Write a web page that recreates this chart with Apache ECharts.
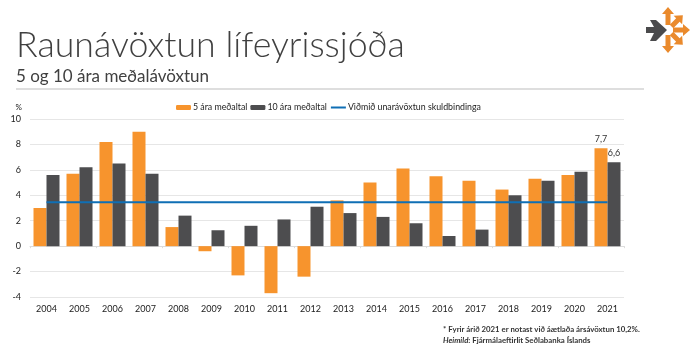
<!DOCTYPE html>
<html>
<head>
<meta charset="utf-8">
<style>
  html, body { margin: 0; padding: 0; background: #fff; }
  #chart { width: 700px; height: 360px; }
</style>
</head>
<body>
<div id="chart"></div>
<script src="https://cdn.jsdelivr.net/npm/echarts@6/dist/echarts.min.js"></script>
<script>
const years = ['2004', '2005', '2006', '2007', '2008', '2009', '2010', '2011', '2012',
  '2013', '2014', '2015', '2016', '2017', '2018', '2019', '2020', '2021'];
const avg5 = [3.0, 5.7, 8.2, 9.0, 1.5, -0.4, -2.3, -3.7, -2.4, 3.6, 5.0, 6.1, 5.5, 5.15, 4.45, 5.3, 5.6, 7.7];
const avg10 = [5.6, 6.2, 6.5, 5.7, 2.4, 1.25, 1.6, 2.1, 3.1, 2.6, 2.3, 1.8, 0.8, 1.3, 4.0, 5.15, 5.85, 6.6];
const target = [3.45, 3.45, 3.45, 3.45, 3.45, 3.45, 3.45, 3.45, 3.45, 3.45, 3.45, 3.45, 3.45, 3.45, 3.45, 3.45, 3.45, 3.45];

const font = 'Lato, "Open Sans", sans-serif';
const orange = '#f7942d';
const dark = '#4d4d4f';
const blue = '#0f6fb5';

// only the last bar of each series carries a label
const withLastLabel = (values) => values.map((v, i) => i === values.length - 1
  ? { value: v, label: { show: true, position: 'top', distance: 5, fontFamily: font, fontSize: 9, color: '#333', formatter: (p) => String(p.value).replace('.', ',') } }
  : v);

// logo arrow pointing up from the centre, turned clockwise by deg
const arrow = (deg, len) => ({
  type: 'polygon',
  x: 668, y: 30,
  rotation: -deg * Math.PI / 180,
  shape: { points: [[-2.5, -5], [-2.5, -len + 7], [-6, -len + 7], [0, -len], [6, -len + 7], [2.5, -len + 7], [2.5, -5]] },
  style: { fill: '#ea8a2c' }
});

const chart = echarts.init(document.getElementById('chart'));
chart.setOption({
  animation: false,
  backgroundColor: '#fff',
  title: [
    { text: 'Raunávöxtun lífeyrissjóða', left: 16, top: 27, padding: 0, textStyle: { fontFamily: font, fontWeight: 300, fontSize: 35.7, color: '#404040' } },
    { text: '5 og 10 ára meðalávöxtun', left: 16, top: 68, padding: 0, textStyle: { fontFamily: font, fontWeight: 400, fontSize: 17, color: '#404040' } },
    {
      text: '{n|* Fyrir árið 2021 er notast við áætlaða ársávöxtun 10,2%.}\n{i|Heimild}{n|: Fjármálaeftirlit Seðlabanka Íslands}',
      left: 443, top: 324, padding: 0,
      textStyle: {
        rich: {
          n: { fontFamily: font, fontSize: 7.8, color: '#333', lineHeight: 11 },
          i: { fontFamily: font, fontSize: 7.8, color: '#333', lineHeight: 11, fontStyle: 'italic' }
        }
      }
    }
  ],
  legend: {
    left: 172, top: 100, padding: [3, 1, 4, 4],
    backgroundColor: '#fff',
    itemWidth: 15, itemHeight: 5, itemGap: 3,
    textStyle: { fontFamily: font, fontSize: 8.8, color: '#222', padding: [0, 0, 0, -3] },
    data: [
      '5 ára meðaltal',
      '10 ára meðaltal',
      { name: 'Viðmið unarávöxtun skuldbindinga', itemStyle: { opacity: 0 } }
    ]
  },
  grid: { left: 30, right: 76, top: 119, bottom: 63 },
  xAxis: [
    {
      type: 'category', data: years, position: 'bottom',
      axisLine: { show: false, onZero: false },
      axisTick: { show: false },
      axisLabel: { fontFamily: font, fontSize: 9, color: '#222', margin: 8, interval: 0 }
    },
    {
      type: 'category', data: years, position: 'bottom',
      axisLine: { show: true, onZero: true, lineStyle: { color: '#dcdcdc' } },
      axisTick: { show: true, length: 2, lineStyle: { color: '#dcdcdc' } },
      axisLabel: { show: false }
    }
  ],
  yAxis: {
    type: 'value', min: -4, max: 10, interval: 2,
    name: '%', nameLocation: 'end', nameGap: 8,
    nameTextStyle: { fontFamily: font, fontSize: 8, color: '#222', align: 'right', padding: [0, 8, 0, 0] },
    axisLine: { show: false },
    axisTick: { show: false },
    axisLabel: { fontFamily: font, fontSize: 9, color: '#222', margin: 9 },
    splitLine: { lineStyle: { color: '#e6e6e6' } }
  },
  series: [
    { name: '5 ára meðaltal', type: 'bar', data: withLastLabel(avg5), barWidth: 13, barGap: 0, itemStyle: { color: orange } },
    { name: '10 ára meðaltal', type: 'bar', data: withLastLabel(avg10), barWidth: 13, barGap: 0, itemStyle: { color: dark } },
    { name: 'Viðmið unarávöxtun skuldbindinga', type: 'line', data: target, symbol: 'none', lineStyle: { color: blue, width: 2 }, itemStyle: { color: blue } }
  ],
  graphic: [
    { type: 'line', shape: { x1: 16, y1: 89, x2: 644, y2: 89 }, style: { stroke: '#bdbdbd', lineWidth: 1 } },
    arrow(0, 23), arrow(45, 21), arrow(90, 22), arrow(135, 21), arrow(180, 23),
    {
      type: 'polygon',
      shape: { points: [[646, 27], [654, 27], [650, 20], [656, 20], [667, 30], [656, 41], [650, 41], [654, 33], [646, 33]] },
      style: { fill: '#4a4a4c' }
    }
  ]
});
</script>
</body>
</html>
